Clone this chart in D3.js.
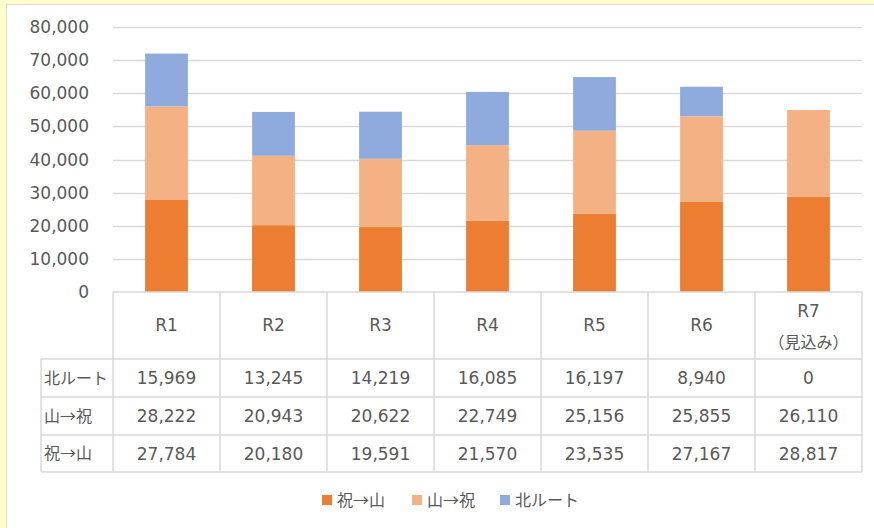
<!DOCTYPE html>
<html lang="ja">
<head>
<meta charset="UTF-8">
<title>chart</title>
<script src="https://d3js.org/d3.v7.min.js"></script>
<style>
  body { margin: 0; background: #ffffcc; }
  svg { display: block; }
  .num { font-family: "DejaVu Sans", "Noto Sans CJK JP", sans-serif; font-size: 17px; fill: #595959; }
  .jp { font-family: "Noto Sans CJK JP", sans-serif; font-size: 16px; fill: #595959; }
</style>
</head>
<body>
<svg width="874" height="528"></svg>
<script>
  var categories = ["R1", "R2", "R3", "R4", "R5", "R6", "R7"];
  var catNotes = ["", "", "", "", "", "", "（見込み）"];
  var seriesNames = ["祝→山", "山→祝", "北ルート"];
  var iwaiToYama = [27784, 20180, 19591, 21570, 23535, 27167, 28817];
  var yamaToIwai = [28222, 20943, 20622, 22749, 25156, 25855, 26110];
  var kitaRoute = [15969, 13245, 14219, 16085, 16197, 8940, 0];
  var colors = ["#ed7d31", "#f4b183", "#8faadc"];
  var yTicks = [0, 10000, 20000, 30000, 40000, 50000, 60000, 70000, 80000];

  var seriesValues = [iwaiToYama, yamaToIwai, kitaRoute];
  var rows = categories.map(function(c, i) {
    var r = { cat: c };
    seriesNames.forEach(function(s, j) { r[s] = seriesValues[j][i]; });
    return r;
  });

  var svg = d3.select("svg");
  var plotL = 113, plotR = 862, plotT = 27, plotB = 292;

  // chart area
  svg.append("rect")
    .attr("x", 6.5).attr("y", 4.5)
    .attr("width", 900).attr("height", 600)
    .attr("fill", "#fff").attr("stroke", "#d9d9d9");

  var x = d3.scaleBand().domain(categories).range([plotL, plotR]);
  var y = d3.scaleLinear().domain([0, 80000]).range([plotB, plotT]);

  // gridlines
  svg.append("g").selectAll("line")
    .data(yTicks.slice(1))
    .join("line")
    .attr("x1", plotL).attr("x2", plotR)
    .attr("y1", function(d) { return Math.round(y(d)) + 0.5; })
    .attr("y2", function(d) { return Math.round(y(d)) + 0.5; })
    .attr("stroke", "#d9d9d9").attr("stroke-width", 1.5);

  // y labels
  svg.append("g").selectAll("text")
    .data(yTicks)
    .join("text")
    .attr("class", "num")
    .attr("x", 89)
    .attr("y", function(d) { return y(d); })
    .attr("dy", "0.36em")
    .attr("text-anchor", "end")
    .text(function(d) { return d3.format(",")(d); });

  // stacked bars
  var stack = d3.stack().keys(seriesNames)(rows);
  var barW = x.bandwidth() * 0.4;
  svg.append("g").selectAll("g")
    .data(stack)
    .join("g")
    .attr("fill", function(d, i) { return colors[i]; })
    .selectAll("rect")
    .data(function(d) { return d; })
    .join("rect")
    .attr("x", function(d) { return x(d.data.cat) + (x.bandwidth() - barW) / 2; })
    .attr("width", barW)
    .attr("y", function(d) { return y(d[1]); })
    .attr("height", function(d) { return y(d[0]) - y(d[1]); });

  // data table
  var rowTops = [292, 359, 397, 435, 472];
  var tableLeft = 41;
  var table = svg.append("g").attr("stroke", "#d9d9d9").attr("stroke-width", 1.5);
  table.append("line").attr("x1", plotL).attr("x2", plotR).attr("y1", rowTops[0]).attr("y2", rowTops[0]);
  rowTops.slice(1).forEach(function(t) {
    table.append("line").attr("x1", tableLeft).attr("x2", plotR).attr("y1", t).attr("y2", t);
  });
  categories.forEach(function(c) {
    table.append("line").attr("x1", x(c)).attr("x2", x(c)).attr("y1", rowTops[0]).attr("y2", rowTops[4]);
  });
  table.append("line").attr("x1", plotR).attr("x2", plotR).attr("y1", rowTops[0]).attr("y2", rowTops[4]);
  table.append("line").attr("x1", tableLeft).attr("x2", tableLeft).attr("y1", rowTops[1]).attr("y2", rowTops[4]);

  // header
  var head = svg.append("g");
  categories.forEach(function(c, i) {
    var cx = x(c) + x.bandwidth() / 2;
    var hasNote = catNotes[i] !== "";
    head.append("text").attr("class", "num")
      .attr("x", cx).attr("y", hasNote ? 311 : 325).attr("dy", "0.36em")
      .attr("text-anchor", "middle").text(c);
    if (hasNote) {
      head.append("text").attr("class", "jp")
        .attr("x", cx).attr("y", 342).attr("dy", "0.36em")
        .attr("text-anchor", "middle").text(catNotes[i]);
    }
  });

  // table rows: top row is last series
  var tableSeries = [2, 1, 0];
  var body = svg.append("g");
  tableSeries.forEach(function(si, r) {
    var cy = (rowTops[r + 1] + rowTops[r + 2]) / 2;
    body.append("text").attr("class", "jp")
      .attr("x", 44).attr("y", cy).attr("dy", "0.36em")
      .text(seriesNames[si]);
    categories.forEach(function(c, i) {
      body.append("text").attr("class", "num")
        .attr("x", x(c) + x.bandwidth() / 2).attr("y", cy).attr("dy", "0.36em")
        .attr("text-anchor", "middle")
        .text(d3.format(",")(seriesValues[si][i]));
    });
  });

  // legend
  var legendX = [322, 412, 500];
  var legend = svg.append("g");
  seriesNames.forEach(function(s, i) {
    legend.append("rect").attr("x", legendX[i]).attr("y", 495)
      .attr("width", 10).attr("height", 10).attr("fill", colors[i]);
    legend.append("text").attr("class", "jp")
      .attr("x", legendX[i] + 15).attr("y", 500).attr("dy", "0.36em")
      .text(s);
  });
</script>
</body>
</html>
